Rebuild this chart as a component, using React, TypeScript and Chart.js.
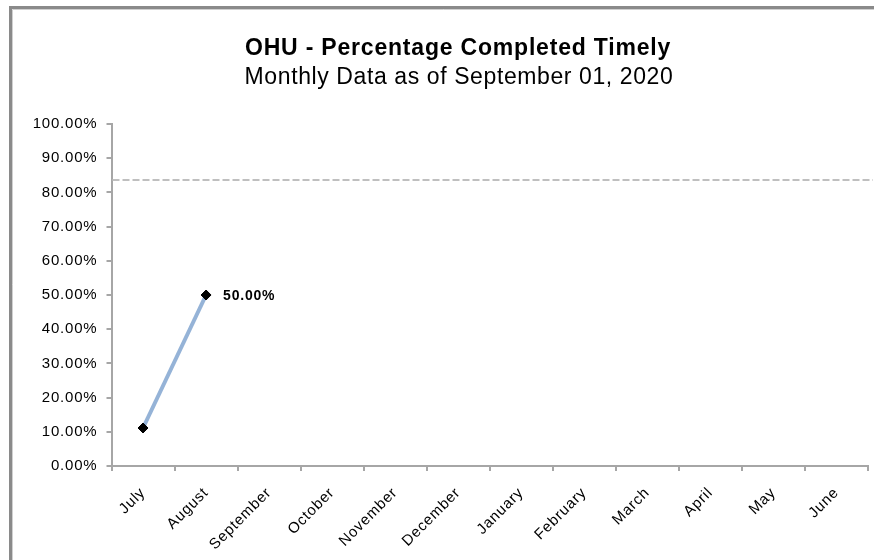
import React, { useEffect, useRef } from "react";
import { Chart, registerables } from "chart.js";

Chart.register(...registerables);

const months = ["July", "August", "September", "October", "November", "December", "January", "February", "March", "April", "May", "June"];
const percentCompleted: (number | null)[] = [11.11, 50, null, null, null, null, null, null, null, null, null, null];
const showValueLabel = [false, true, false, false, false, false, false, false, false, false, false, false];
const targetPercent = 83.6;
const yTickValues = [0, 10, 20, 30, 40, 50, 60, 70, 80, 90, 100];
const titleText = "OHU - Percentage Completed Timely";
const subtitleText = "Monthly Data as of September 01, 2020";

const FONT = "'Liberation Sans', Arial, sans-serif";
const SPACING = "0.8px";

const spacingPlugin = {
  id: "spacing",
  beforeUpdate(chart: any) { chart.ctx.letterSpacing = SPACING; },
  beforeLayout(chart: any) { chart.ctx.letterSpacing = SPACING; },
  beforeDraw(chart: any) { chart.ctx.letterSpacing = SPACING; },
};

const framePlugin = {
  id: "frame",
  beforeDraw(chart: any) {
    const ctx = chart.ctx;
    ctx.save();
    ctx.fillStyle = "#ffffff";
    ctx.fillRect(0, 0, chart.width, chart.height);
    ctx.strokeStyle = "#8a8a8a";
    ctx.lineWidth = 3;
    ctx.beginPath();
    ctx.moveTo(10.5, chart.height);
    ctx.lineTo(10.5, 7.5);
    ctx.lineTo(chart.width, 7.5);
    ctx.stroke();
    ctx.strokeStyle = "#d0d0d0";
    ctx.lineWidth = 1;
    ctx.beginPath();
    ctx.moveTo(12.5, chart.height);
    ctx.lineTo(12.5, 9.5);
    ctx.lineTo(chart.width, 9.5);
    ctx.stroke();
    ctx.restore();
  },
};

const headingPlugin = {
  id: "heading",
  afterDraw(chart: any) {
    const ctx = chart.ctx;
    ctx.save();
    ctx.fillStyle = "#000000";
    ctx.textAlign = "center";
    ctx.textBaseline = "alphabetic";
    ctx.letterSpacing = "0.8px";
    ctx.font = `bold 23px ${FONT}`;
    ctx.fillText(titleText, 458, 55);
    ctx.letterSpacing = "0.6px";
    ctx.font = `normal 23px ${FONT}`;
    ctx.fillText(subtitleText, 459, 84);
    ctx.restore();
  },
};

const targetPlugin = {
  id: "target",
  afterDatasetsDraw(chart: any) {
    const ctx = chart.ctx;
    const y = chart.scales.y.getPixelForValue(targetPercent);
    ctx.save();
    ctx.strokeStyle = "#bfbfbf";
    ctx.lineWidth = 2;
    ctx.setLineDash([7, 3]);
    ctx.beginPath();
    ctx.moveTo(chart.chartArea.left + 1, y);
    ctx.lineTo(chart.width - 1, y);
    ctx.stroke();
    ctx.restore();
  },
};

const valueLabelPlugin = {
  id: "valueLabels",
  afterDatasetsDraw(chart: any) {
    const ctx = chart.ctx;
    const meta = chart.getDatasetMeta(0);
    ctx.save();
    ctx.font = `bold 14px ${FONT}`;
    ctx.fillStyle = "#000000";
    ctx.textAlign = "left";
    ctx.textBaseline = "middle";
    meta.data.forEach((pt: any, i: number) => {
      const v = percentCompleted[i];
      if (!showValueLabel[i] || v == null) return;
      ctx.fillText(v.toFixed(2) + "%", pt.x + 17, pt.y + 1);
    });
    ctx.restore();
  },
};

export default function App() {
  const ref = useRef<HTMLCanvasElement>(null);
  useEffect(() => {
    document.body.style.margin = "0";
    const canvas = ref.current!;
    const chart = new Chart(canvas, {
      type: "line",
      data: {
        labels: months,
        datasets: [
          {
            label: "Percentage Completed Timely",
            data: percentCompleted,
            borderColor: "#95b3d7",
            borderWidth: 4,
            pointStyle: "rectRot",
            pointRadius: 5,
            pointBackgroundColor: "#000000",
            pointBorderColor: "#000000",
            pointBorderWidth: 1,
            tension: 0,
            spanGaps: false,
          },
        ],
      },
      options: {
        responsive: false,
        animation: false,
        devicePixelRatio: 1,
        layout: { padding: { left: 12, right: 5, top: 124, bottom: 0 } },
        font: { family: FONT },
        plugins: {
          legend: { display: false },
          tooltip: { enabled: false },
          title: { display: false },
          subtitle: { display: false },
        },
        scales: {
          x: {
            type: "category",
            offset: true,
            grid: {
              display: true,
              drawOnChartArea: false,
              offset: true,
              tickLength: 5,
              color: "#a6a6a6",
              lineWidth: 2,
            },
            border: { color: "#a6a6a6", width: 2 },
            ticks: {
              autoSkip: false,
              minRotation: 45,
              maxRotation: 45,
              color: "#000000",
              padding: 13,
              font: { family: FONT, size: 15 },
            },
            afterFit: (s: any) => { s.height = 94; },
          },
          y: {
            min: 0,
            max: 100,
            grid: {
              display: true,
              drawOnChartArea: false,
              tickLength: 5,
              color: "#a6a6a6",
              lineWidth: 2,
            },
            border: { color: "#a6a6a6", width: 2 },
            ticks: {
              color: "#000000",
              padding: 9,
              font: { family: FONT, size: 15 },
              callback: (v: any) => Number(v).toFixed(2) + "%",
            },
            afterBuildTicks: (s: any) => { s.ticks = yTickValues.map((v) => ({ value: v })); },
            afterFit: (s: any) => { s.width = 99.5; },
          },
        },
      } as any,
      plugins: [spacingPlugin, framePlugin, targetPlugin, valueLabelPlugin, headingPlugin],
    });
    return () => chart.destroy();
  }, []);
  return <canvas ref={ref} width={874} height={560} style={{ display: "block" }} />;
}
